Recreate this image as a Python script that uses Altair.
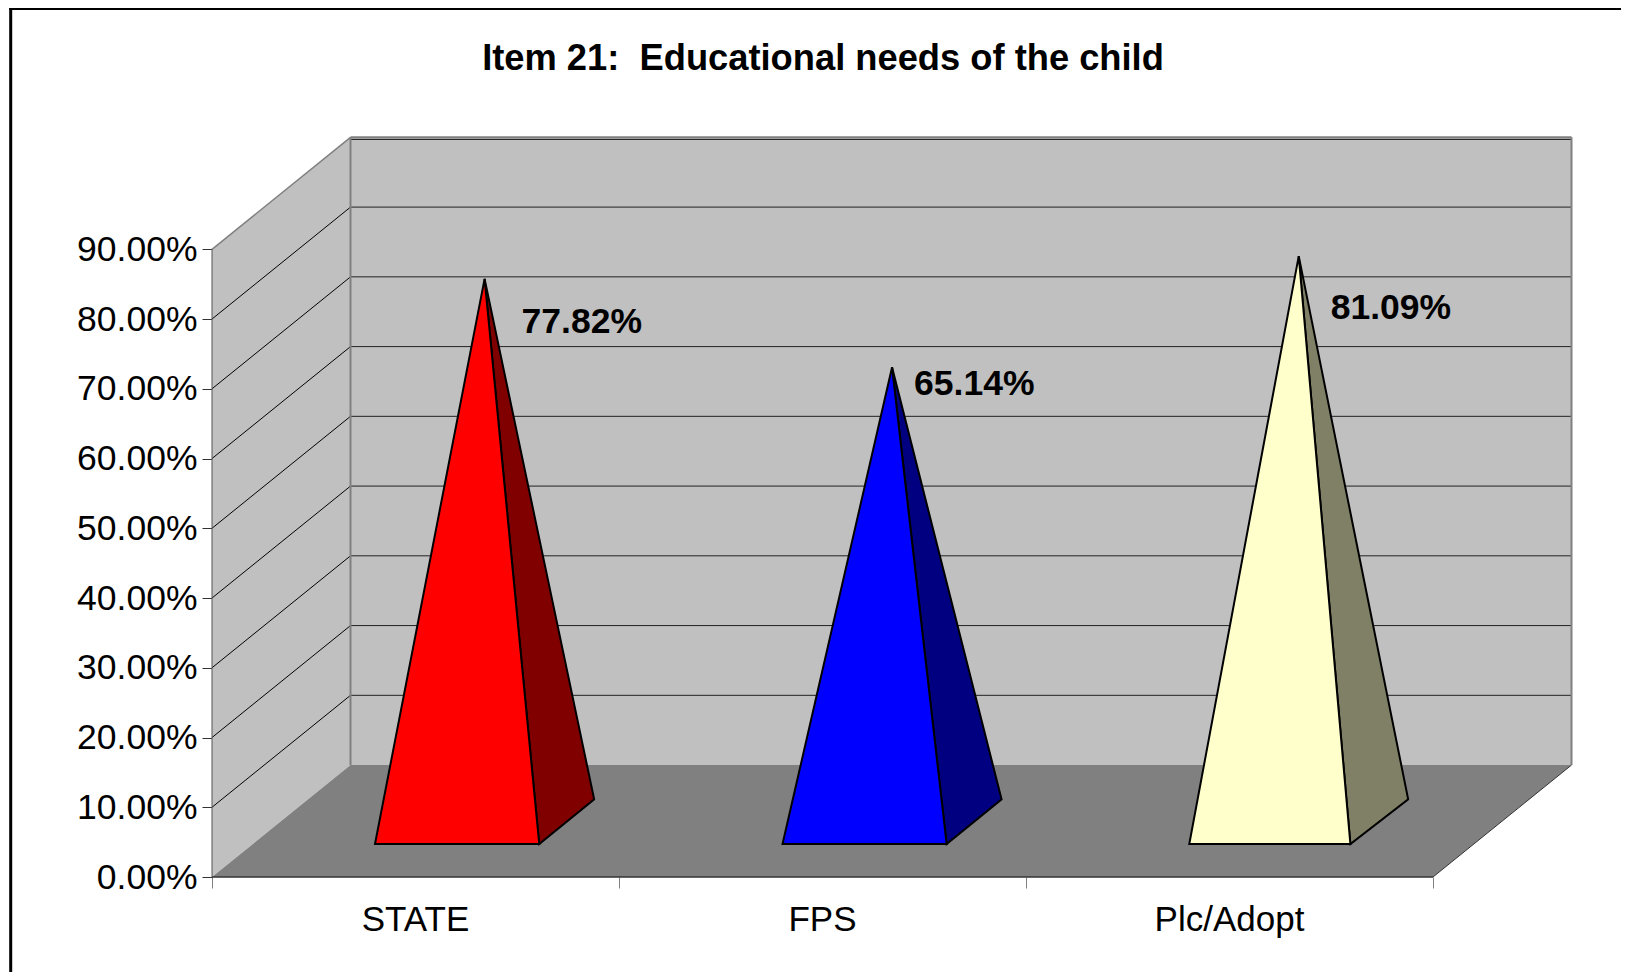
import altair as alt
import pandas as pd

categories = ["STATE", "FPS", "Plc/Adopt"]
values = [77.82, 65.14, 81.09]
base_left = [0.4005, 1.4018, 2.4012]
base_right = [0.804, 1.805, 2.797]
base_back = [0.939, 1.940, 2.939]
front_colors = ["#FF0000", "#0000FF", "#FFFFCC"]
side_colors = ["#800000", "#000080", "#808066"]
ticks_y = [0, 10, 20, 30, 40, 50, 60, 70, 80, 90]
ticks_x = [0, 1, 2, 3]
TITLE = "Item 21:\u00a0 Educational needs of the child"

# oblique projection of the 3-D box, in axis units
DX, DY = 0.3403, 16.05
YF, YB = 4.73, 11.14
W, H = 1360, 740
XD = [0, W / 407]
YD = [0, H / (627.7 / 90)]
FONT = "Liberation Sans"

xs = alt.Scale(domain=XD, nice=False, zero=False)
ys = alt.Scale(domain=YD, nice=False, zero=False)


def X(axis=alt.Undefined):
    return alt.X("x:Q", scale=xs, axis=axis, title=None)


def Y(axis=alt.Undefined):
    return alt.Y("y:Q", scale=ys, axis=axis, title=None, stack=None)


def poly(rows, fill, stroke=None, sw=0):
    kw = {"stroke": stroke, "strokeWidth": sw} if stroke else {}
    return alt.Chart(pd.DataFrame(rows, columns=["x", "y", "y2"])).mark_area(
        fill=fill, interpolate="linear", opacity=1, strokeJoin="miter", **kw
    ).encode(x=X(), y=Y(), y2="y2:Q")


def seg(rows, color, sw, y_offset=0):
    df = pd.DataFrame(rows, columns=["id", "x", "y"])
    return alt.Chart(df).mark_line(color=color, strokeWidth=sw, yOffset=y_offset, clip=False).encode(
        x=X(), y=Y(), detail="id:N"
    )


layers = []

# axes carrier
yaxis = alt.Axis(
    values=ticks_y, domain=False, grid=False, tickSize=10, tickColor="#333333", tickWidth=1,
    labelExpr="format(datum.value / 100, '.2%')", labelFont=FONT, labelFontSize=35.5,
    labelColor="#000000", labelPadding=5, labelOverlap=False, labelBound=False, labelFlush=False,
)
xaxis = alt.Axis(
    values=ticks_x, domain=False, grid=False, labels=False, tickSize=11, tickColor="#808080", tickWidth=1,
)
layers.append(
    alt.Chart(pd.DataFrame({"x": [0, 3], "y": [0, 0]})).mark_point(opacity=0).encode(x=X(xaxis), y=Y(yaxis))
)

# walls and floor
layers.append(poly([[0, 0, 90], [DX, DY, 90 + DY]], "#C0C0C0"))
layers.append(poly([[DX, DY, 90 + DY], [3 + DX, DY, 90 + DY]], "#C0C0C0"))
layers.append(poly([[0, 0, 0], [DX, 0, DY], [3, 0, DY], [3 + DX, DY, DY]], "#808080"))

# gridlines
grid = [v for v in ticks_y if 0 < v < 90]
back = []
side = []
for v in grid:
    back += [[v, DX, v + DY], [v, 3 + DX, v + DY]]
    side += [[v, 0, v], [v, DX, v + DY]]
layers.append(seg(back, "#222222", 1))
layers.append(seg(side, "#000000", 1))
layers.append(seg([[90, DX, 90 + DY], [90, 3 + DX, 90 + DY]], "#111111", 1, 2))

# box edges
layers.append(seg([["a", DX, DY], ["a", DX, 90 + DY]], "#808080", 2))
layers.append(seg([["a", DX, 90 + DY], ["a", 3 + DX, 90 + DY]], "#808080", 2))
layers.append(seg([["a", 3 + DX, DY], ["a", 3 + DX, 90 + DY]], "#808080", 2))
layers.append(seg([["a", 0, 90], ["a", DX, 90 + DY]], "#808080", 1.5))
layers.append(seg([["a", 0, 0], ["a", 0, 90]], "#555555", 1))
layers.append(seg([["a", 0, 0], ["a", 3, 0]], "#333333", 1.5))
layers.append(seg([["a", 3, 0], ["a", 3 + DX, DY]], "#333333", 1))

# pyramids
offsets = [(37, 43), (22, 17), (32, 52)]
for i, v in enumerate(values):
    xl, xr, xb = base_left[i], base_right[i], base_back[i]
    ax = (xl + xb) / 2
    ay = (YF + YB) / 2 + v
    upper = ay + (YB - ay) * (xr - ax) / (xb - ax)
    layers.append(poly([[ax, ay, ay], [xr, upper, YF], [xb, YB, YB]], side_colors[i], "#000000", 2))
    layers.append(poly([[xl, YF, YF], [ax, ay, YF], [xr, YF, YF]], front_colors[i], "#000000", 2))
    layers.append(
        alt.Chart(pd.DataFrame({"x": [ax], "y": [ay], "t": [f"{v:.2f}%"]}))
        .mark_text(font=FONT, fontSize=35.5, fontWeight="bold", align="left", baseline="middle",
                   dx=offsets[i][0], dy=offsets[i][1], color="#000000")
        .encode(x=X(), y=Y(), text="t:N")
    )

# category labels
layers.append(
    alt.Chart(pd.DataFrame({"x": [0.5, 1.5, 2.5], "t": categories}))
    .mark_text(font=FONT, fontSize=35, align="center", baseline="alphabetic", color="#000000")
    .encode(x=X(), y=alt.value(793.5), text="t:N")
)

# chart title as a text layer, placed above the box
layers.append(
    alt.Chart(pd.DataFrame({"t": [TITLE]}))
    .mark_text(font=FONT, fontSize=36.3, fontWeight="bold", align="center", baseline="alphabetic", color="#000000")
    .encode(x=alt.value(611), y=alt.value(-67), text="t:N")
)

# outer frame
layers.append(alt.Chart(pd.DataFrame({"a": [0]})).mark_rule(color="#000000", strokeWidth=3).encode(
    x=alt.value(-201.3), y=alt.value(-129), y2=alt.value(835)))
layers.append(alt.Chart(pd.DataFrame({"a": [0]})).mark_rule(color="#000000", strokeWidth=2).encode(
    x=alt.value(-202.8), x2=alt.value(1409), y=alt.value(-128)))

chart = alt.layer(*layers).properties(
    width=W,
    height=H,
    padding={"left": 204, "top": 129, "right": 49, "bottom": 95},
    autosize="none",
    background="#FFFFFF",
).configure_view(stroke=None).configure_axis(grid=False)

chart.save("out.html", embed_options={"renderer": "svg", "actions": False})
